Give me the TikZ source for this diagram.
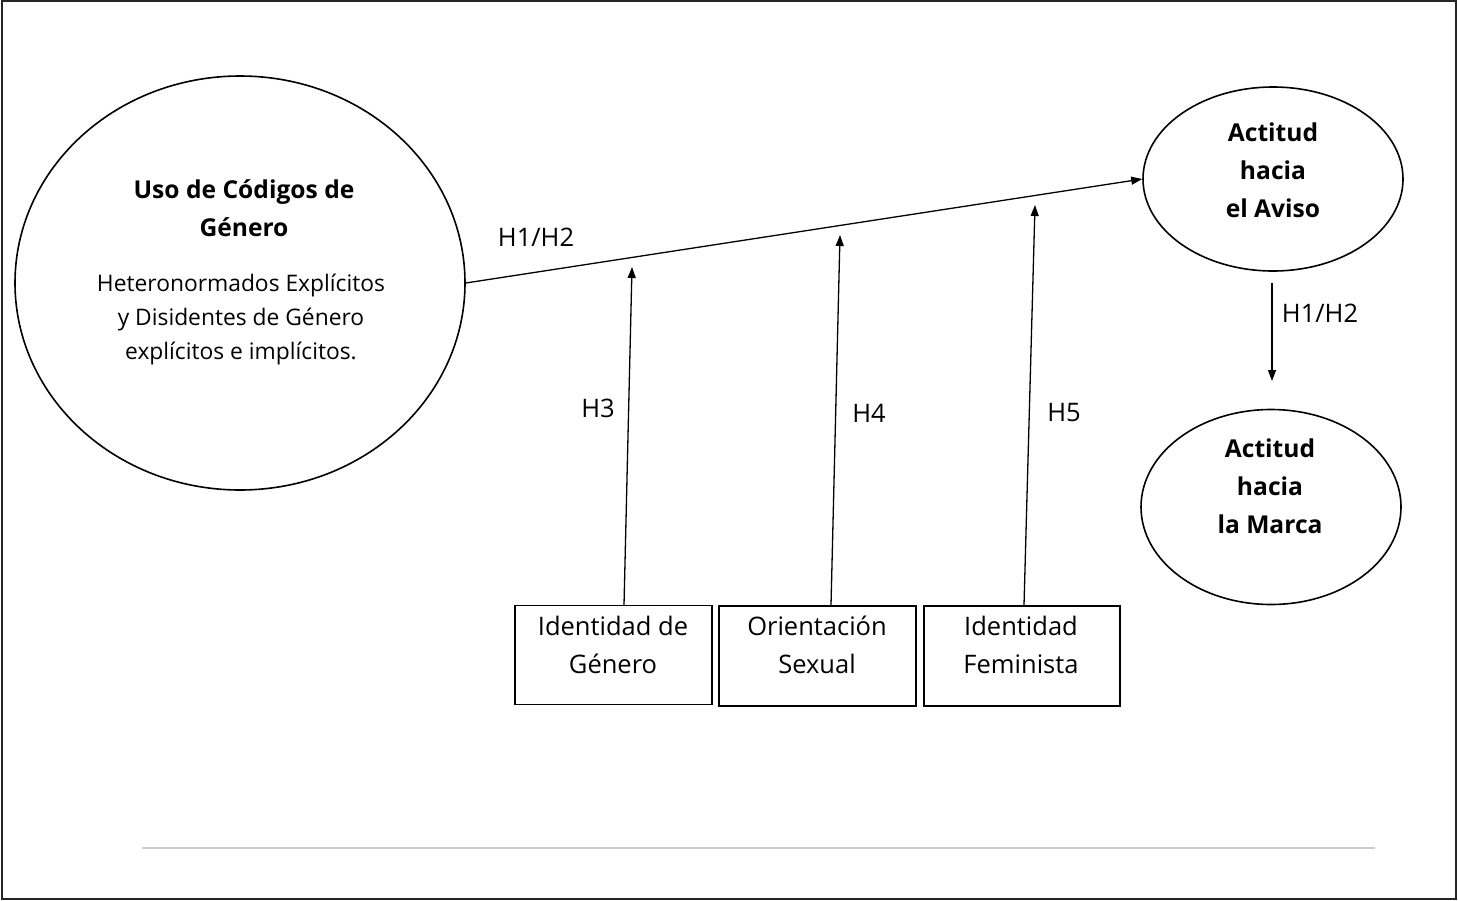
\documentclass[tikz,border=0pt]{standalone}
\usepackage{fontspec}
\setmainfont{Open Sans}
\usetikzlibrary{arrows.meta,shapes.geometric}
\begin{document}
\begin{tikzpicture}[x=1pt,y=-1pt,
  line width=1.6pt,
  oval/.style={draw, ellipse, inner sep=0pt},
  box/.style={draw, rectangle, minimum width=197pt, minimum height=99pt, inner sep=0pt},
  boxt/.style={align=center, font=\fontsize{25.5}{38}\selectfont},
  boldt/.style={align=center, font=\fontsize{24.6}{38}\selectfont\bfseries},
  arr/.style={-{Triangle[length=11pt,width=8pt]}, line width=1.3pt},
  lab/.style={font=\fontsize{25.5}{30}\selectfont}
]
\useasboundingbox (0,0) rectangle (1458,900);
\draw[line width=2pt, black!85] (2,1) rectangle (1456,899);
\draw[line width=2pt, black!20] (142,848) -- (1375,848);
% ellipses
\node[oval, minimum width=450pt, minimum height=414pt] (uso) at (240,283) {};
\node[oval, minimum width=260pt, minimum height=184pt] (aviso) at (1273,179) {};
\node[oval, minimum width=260pt, minimum height=195pt] (marca) at (1271,507) {};
% texts
\node[boldt] (usot) at (244,208) {Uso de Códigos de\\Género};
\node[align=center, font=\fontsize{22.8}{34}\selectfont] (usob) at (241,319) {Heteronormados Explícitos\\y Disidentes de Género\\explícitos e implícitos.};
\node[boldt] (avisot) at (1273,170) {Actitud\\hacia\\el Aviso};
\node[boldt] (marcat) at (1270,486) {Actitud\\hacia\\la Marca};
% boxes
\node[box, minimum width=197pt] (b1) at (613.5,655) {};
\node[box, minimum width=197pt, minimum height=100pt] (b2) at (817.5,656) {};
\node[box, minimum width=196pt, minimum height=100pt] (b3) at (1022,656) {};
\node[boxt] (b1t) at (613,645) {Identidad de\\Género};
\node[boxt] (b2t) at (817,645) {Orientación\\Sexual};
\node[boxt] (b3t) at (1021,645) {Identidad\\Feminista};
% coordinates
\coordinate (m1) at (632,267);
\coordinate (m2) at (840,235);
\coordinate (m3) at (1035,205);
\coordinate (s1) at (624,605);
\coordinate (s2) at (831,605);
\coordinate (s3) at (1024,605);
\coordinate (d1) at (1272,283);
\coordinate (d2) at (1272,381);
% arrows
\draw[arr] (uso.east) -- (aviso.west);
\draw[arr] (s1) -- (m1);
\draw[arr] (s2) -- (m2);
\draw[arr] (s3) -- (m3);
\draw[arr] (d1) -- (d2);
% labels
\node[lab] (l0) at (536,237) {H1/H2};
\node[lab] (l3) at (598,408) {H3};
\node[lab] (l4) at (869,413) {H4};
\node[lab] (l5) at (1064,413) {H5};
\node[lab] (l6) at (1320,313) {H1/H2};
\end{tikzpicture}
\end{document}
